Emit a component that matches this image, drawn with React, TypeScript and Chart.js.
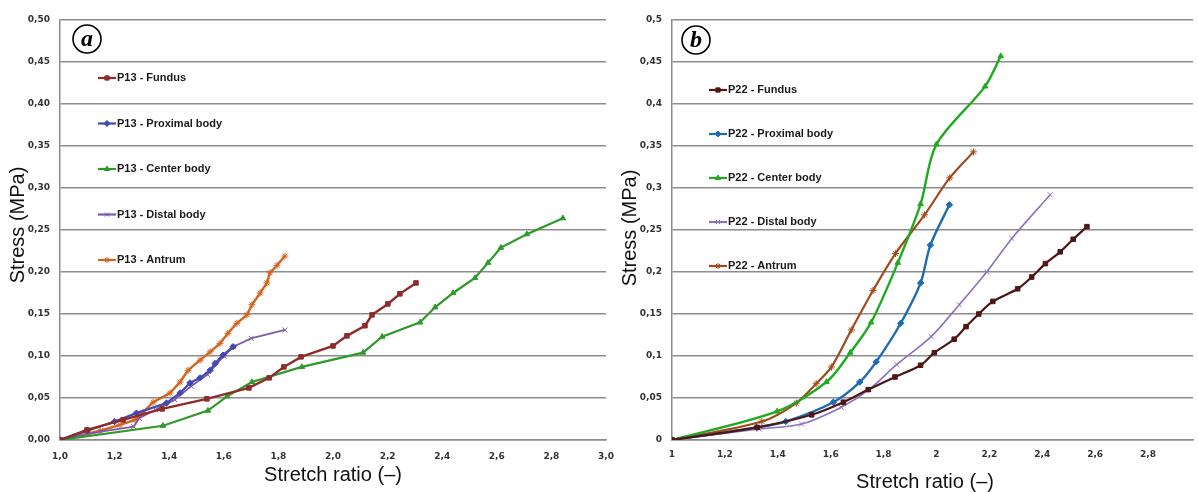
import React, { useEffect, useRef } from 'react';
import { Chart, registerables } from 'chart.js';
import { drawPoint } from 'chart.js/helpers';
Chart.register(...registerables);

// ---------- Panel (a) data: P13 ----------
const namesA = ['P13 - Fundus', 'P13 - Proximal body', 'P13 - Center body', 'P13 - Distal body', 'P13 - Antrum'];
const fundusAX = [1.0, 1.099, 1.231, 1.374, 1.538, 1.692, 1.766, 1.82, 1.883, 2.0, 2.051, 2.117, 2.143, 2.201, 2.245, 2.304];
const fundusAY = [0, 0.012, 0.024, 0.037, 0.049, 0.062, 0.074, 0.087, 0.099, 0.112, 0.124, 0.136, 0.149, 0.162, 0.174, 0.187];
const proximalAX = [1.0, 1.1, 1.2, 1.28, 1.39, 1.44, 1.476, 1.513, 1.55, 1.568, 1.597, 1.634];
const proximalAY = [0, 0.011, 0.022, 0.032, 0.044, 0.056, 0.068, 0.074, 0.083, 0.091, 0.101, 0.111];
const centerAX = [1.0, 1.377, 1.542, 1.612, 1.703, 1.886, 2.11, 2.18, 2.319, 2.374, 2.44, 2.52, 2.568, 2.615, 2.71, 2.842];
const centerAY = [0, 0.017, 0.035, 0.052, 0.069, 0.087, 0.104, 0.123, 0.14, 0.158, 0.175, 0.193, 0.211, 0.229, 0.245, 0.264];
const distalAX = [1.0, 1.15, 1.27, 1.29, 1.35, 1.42, 1.48, 1.54, 1.6, 1.635, 1.7, 1.824];
const distalAY = [0, 0.01, 0.016, 0.026, 0.036, 0.048, 0.064, 0.078, 0.1, 0.111, 0.121, 0.131];
const antrumAX = [1.0, 1.147, 1.22, 1.275, 1.304, 1.341, 1.403, 1.44, 1.469, 1.513, 1.55, 1.586, 1.615, 1.648, 1.685, 1.703, 1.733, 1.758, 1.769, 1.795, 1.824];
const antrumAY = [0, 0.011, 0.018, 0.024, 0.033, 0.045, 0.056, 0.069, 0.083, 0.095, 0.105, 0.115, 0.127, 0.139, 0.149, 0.161, 0.175, 0.187, 0.199, 0.208, 0.219];

// ---------- Panel (b) data: P22 ----------
const namesB = ['P22 - Fundus', 'P22 - Proximal body', 'P22 - Center body', 'P22 - Distal body', 'P22 - Antrum'];
const fundusBX = [1.0, 1.322, 1.528, 1.648, 1.742, 1.843, 1.94, 1.992, 2.067, 2.112, 2.16, 2.213, 2.307, 2.36, 2.412, 2.468, 2.517, 2.569];
const fundusBY = [0, 0.015, 0.03, 0.045, 0.06, 0.075, 0.089, 0.104, 0.12, 0.135, 0.15, 0.165, 0.18, 0.194, 0.21, 0.224, 0.239, 0.254];
const proximalBX = [1.0, 1.32, 1.43, 1.61, 1.71, 1.772, 1.865, 1.94, 1.977, 2.049];
const proximalBY = [0, 0.015, 0.022, 0.045, 0.069, 0.093, 0.139, 0.187, 0.232, 0.28];
const centerBX = [1.0, 1.397, 1.584, 1.674, 1.753, 1.854, 1.94, 2.0, 2.184, 2.243];
const centerBY = [0, 0.034, 0.069, 0.104, 0.14, 0.211, 0.281, 0.352, 0.421, 0.457];
const distalBX = [1.0, 1.33, 1.49, 1.64, 1.745, 1.85, 1.98, 2.086, 2.19, 2.285, 2.43];
const distalBY = [0, 0.013, 0.019, 0.039, 0.06, 0.09, 0.123, 0.161, 0.2, 0.24, 0.292];
const antrumBX = [1.0, 1.34, 1.47, 1.545, 1.603, 1.678, 1.76, 1.845, 1.955, 2.05, 2.14];
const antrumBY = [0, 0.022, 0.044, 0.067, 0.087, 0.131, 0.178, 0.222, 0.268, 0.312, 0.343];

const pointStyles = ['rect', 'rectRot', 'triangle', 'crossRot', 'star'];
const colorsA = ['#8E2B2B', '#4348B0', '#2F9A2A', '#7D5BA6', '#D2641E'];
const colorsB = ['#4E1616', '#1D6BB0', '#1FAA1F', '#8C72BE', '#A24A1C'];

const zip = (xs: number[], ys: number[]) => xs.map((x, i) => ({ x, y: ys[i] }));

function makeDatasets(names: string[], xs: number[][], ys: number[][], colors: string[], tension: number, widths: number[]) {
  return names.map((n, i) => ({
    label: n,
    data: zip(xs[i], ys[i]),
    showLine: true,
    borderColor: colors[i],
    backgroundColor: colors[i],
    pointBackgroundColor: colors[i],
    pointBorderColor: colors[i],
    pointStyle: pointStyles[i],
    pointRadius: i === 3 || i === 4 ? 3.5 : 3.2,
    pointBorderWidth: i === 3 || i === 4 ? 1 : 1,
    borderWidth: widths[i],
    tension,
  }));
}

type Extra = {
  legendX: number;
  legendY0: number;
  legendGap: number;
  yTitle: [number, number];
  xTitle: [number, number];
  letter: string;
  circle: [number, number];
};

function overlayPlugin(ex: Extra) {
  return {
    id: 'overlay' + ex.letter,
    afterDraw(chart: any) {
      const ctx = chart.ctx as CanvasRenderingContext2D;
      ctx.save();
      // axis titles
      ctx.fillStyle = '#111';
      ctx.font = '20px "Liberation Sans", Arial, sans-serif';
      ctx.textAlign = 'center';
      ctx.textBaseline = 'middle';
      ctx.fillText('Stretch ratio (\u2013)', ex.xTitle[0], ex.xTitle[1]);
      ctx.save();
      ctx.translate(ex.yTitle[0], ex.yTitle[1]);
      ctx.rotate(-Math.PI / 2);
      ctx.fillText('Stress (MPa)', 0, 0);
      ctx.restore();
      // circled letter
      ctx.beginPath();
      ctx.arc(ex.circle[0], ex.circle[1], 14, 0, Math.PI * 2);
      ctx.lineWidth = 1.6;
      ctx.strokeStyle = '#000';
      ctx.stroke();
      ctx.fillStyle = '#000';
      ctx.font = 'italic bold 24px "Liberation Serif", "DejaVu Serif", serif';
      ctx.fillText(ex.letter, ex.circle[0], ex.circle[1] + 1);
      // legend
      chart.data.datasets.forEach((ds: any, i: number) => {
        const y = ex.legendY0 + i * ex.legendGap;
        const x0 = ex.legendX;
        ctx.beginPath();
        ctx.moveTo(x0, y);
        ctx.lineTo(x0 + 18, y);
        ctx.strokeStyle = ds.borderColor;
        ctx.lineWidth = 2.2;
        ctx.stroke();
        ctx.fillStyle = ds.pointBackgroundColor;
        ctx.strokeStyle = ds.pointBorderColor;
        ctx.lineWidth = 1;
        drawPoint(ctx, { pointStyle: ds.pointStyle, radius: 3, rotation: 0, borderWidth: 1 } as any, x0 + 9, y);
        ctx.fillStyle = '#1a1a1a';
        ctx.font = 'bold 11px "Liberation Sans", Arial, sans-serif';
        ctx.textAlign = 'left';
        ctx.textBaseline = 'middle';
        ctx.fillText(ds.label, x0 + 19, y);
      });
      ctx.restore();
    },
  };
}

function makeConfig(
  datasets: any[],
  xMax: number,
  fmtX: (v: number) => string,
  fmtY: (v: number) => string,
  rightPad: number,
  xPad: number,
  ex: Extra
): any {
  return {
    type: 'scatter',
    data: { datasets },
    options: {
      animation: false,
      responsive: true,
      maintainAspectRatio: false,
      layout: { padding: { top: 20, right: rightPad, left: 0, bottom: 0 } },
      plugins: { legend: { display: false }, tooltip: { enabled: false } },
      scales: {
        x: {
          type: 'linear',
          min: 1,
          max: xMax,
          grid: { display: false, drawTicks: false },
          border: { display: true, color: '#8c8c8c', width: 1.5 },
          ticks: {
            stepSize: 0.2,
            includeBounds: false,
            autoSkip: false,
            maxRotation: 0,
            padding: xPad,
            color: '#333',
            font: { family: '"DejaVu Sans", sans-serif', weight: 'bold', size: 9 },
            callback: (v: number) => fmtX(v),
          },
          afterFit: (s: any) => {
            s.height = 52;
            s.paddingLeft = 0;
            s.paddingRight = 0;
          },
        },
        y: {
          type: 'linear',
          min: 0,
          max: 0.5,
          grid: { display: true, drawTicks: false, color: '#8c8c8c', lineWidth: 1.6 },
          border: { display: true, color: '#8c8c8c', width: 1.5 },
          ticks: {
            stepSize: 0.05,
            padding: 10,
            color: '#333',
            font: { family: '"DejaVu Sans", sans-serif', weight: 'bold', size: 9 },
            callback: (v: number) => fmtY(v),
          },
          afterFit: (s: any) => {
            s.width = 60;
            s.paddingTop = 0;
            s.paddingBottom = 0;
          },
        },
      },
    },
    plugins: [overlayPlugin(ex)],
  };
}

const commaFixed = (d: number) => (v: number) => v.toFixed(d).replace('.', ',');
const commaShort = (d: number) => (v: number) => String(parseFloat(v.toFixed(d))).replace('.', ',');

export default function App() {
  const refA = useRef<HTMLCanvasElement>(null);
  const refB = useRef<HTMLCanvasElement>(null);

  useEffect(() => {
    const dsA = makeDatasets(
      namesA,
      [fundusAX, proximalAX, centerAX, distalAX, antrumAX],
      [fundusAY, proximalAY, centerAY, distalAY, antrumAY],
      colorsA,
      0,
      [2.4, 2.2, 2.2, 1.8, 2.4]
    );
    const dsB = makeDatasets(
      namesB,
      [fundusBX, proximalBX, centerBX, distalBX, antrumBX],
      [fundusBY, proximalBY, centerBY, distalBY, antrumBY],
      colorsB,
      0.3,
      [2.2, 2.4, 2.4, 1.6, 2.2]
    );
    const ca = new Chart(
      refA.current!,
      makeConfig(dsA, 3, commaFixed(1), commaFixed(2), 18, 11, {
        legendX: 98,
        legendY0: 78,
        legendGap: 45.5,
        yTitle: [18, 225],
        xTitle: [333, 475],
        letter: 'a',
        circle: [87, 39],
      })
    );
    const cb = new Chart(
      refB.current!,
      makeConfig(dsB, 1 + 526 / 267, commaShort(1), commaShort(2), 0, 9, {
        legendX: 97,
        legendY0: 90,
        legendGap: 44,
        yTitle: [18, 228],
        xTitle: [313, 482],
        letter: 'b',
        circle: [84, 40],
      })
    );
    return () => {
      ca.destroy();
      cb.destroy();
    };
  }, []);

  return (
    <div style={{ position: 'absolute', left: 0, top: 0, width: 1198, height: 492, background: '#fff', overflow: 'hidden' }}>
      <div style={{ position: 'absolute', left: 0, top: 0, width: 624, height: 492 }}>
        <canvas ref={refA} />
      </div>
      <div style={{ position: 'absolute', left: 612, top: 0, width: 586, height: 492 }}>
        <canvas ref={refB} />
      </div>
    </div>
  );
}
